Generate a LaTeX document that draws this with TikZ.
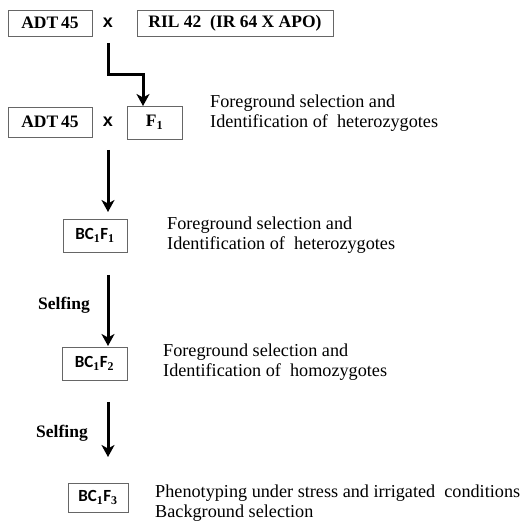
\documentclass[tikz,border=0pt]{standalone}
\usepackage{fontspec}
\setmainfont{Liberation Serif}
\newfontfamily\crossfont{Liberation Sans}
\newfontfamily\genfont{Carlito}
\usepackage{xcolor}
\usepackage{tikz}
\usetikzlibrary{positioning,arrows.meta}

\begin{document}
\begin{tikzpicture}[x=1pt, y=-1pt,
    parentbox/.style={draw=black!60, line width=0.8pt, inner sep=0pt, font=\fontsize{17.5}{18}\selectfont\bfseries},
    genbox/.style={draw=black!60, line width=0.8pt, inner sep=0pt, font=\genfont\fontsize{17}{18}\selectfont\bfseries},
    cross/.style={inner sep=0pt, font=\crossfont\fontsize{18}{18}\selectfont\bfseries},
    note/.style={anchor=west, align=left, inner sep=0pt, font=\fontsize{18.2}{20}\selectfont},
    selfing/.style={inner sep=0pt, font=\fontsize{17.5}{20}\selectfont\bfseries},
    flow/.style={line width=3pt, -{Stealth[length=12pt,width=13pt,inset=3.5pt]}}]
    \useasboundingbox (0,0) rectangle (531,521);

    \coordinate (CrossAOut) at (108, 43);
    \coordinate (CrossABend) at (108, 75);
    \coordinate (FOneIn) at (143, 106);

    \coordinate (CrossBOut) at (108, 150);
    \coordinate (BCOneIn) at (108, 212);
    \coordinate (BCOneOut) at (108, 275);
    \coordinate (BCTwoIn) at (108, 346);
    \coordinate (BCTwoOut) at (108, 402);
    \coordinate (BCThreeIn) at (108, 457);

    \node [parentbox, minimum width=84, minimum height=26] (adtA) at (50, 23) {ADT\,45};
    \node [cross] (crossA) at (108, 23) {x};
    \node [parentbox, minimum width=196, minimum height=26] (ril) at (235, 23) {RIL 42\ \ (IR 64 X APO)};

    \node [parentbox, minimum width=84, minimum height=30] (adtB) at (50, 122) {ADT\,45};
    \node [cross] (crossB) at (108, 122) {x};
    \node [parentbox, minimum width=55, minimum height=33] (fOne) at (154.5, 122.5) {F$_{\mathbf{1}}$};
    \node [note] (noteA) at (210, 113) {Foreground selection and\\Identification of\ \ heterozygotes};

    \node [genbox, minimum width=64, minimum height=33] (bcOne) at (95, 235.5) {BC$_{\mathbf{1}}$F$_{\mathbf{1}}$};
    \node [note] (noteB) at (167, 235) {Foreground selection and\\Identification of\ \ heterozygotes};

    \node [selfing] (selfA) at (64, 305) {Selfing};

    \node [genbox, minimum width=65, minimum height=33] (bcTwo) at (94.5, 363.5) {BC$_{\mathbf{1}}$F$_{\mathbf{2}}$};
    \node [note] (noteC) at (163, 362) {Foreground selection and\\Identification of\ \ homozygotes};

    \node [selfing] (selfB) at (62, 433) {Selfing};

    \node [genbox, minimum width=60, minimum height=29] (bcThree) at (98, 497.5) {BC$_{\mathbf{1}}$F$_{\mathbf{3}}$};
    \node [note] (noteD) at (155, 503) {Phenotyping under stress and irrigated\ \ conditions\\Background selection};

    \draw [flow] (CrossAOut) -- (CrossABend) -| (FOneIn);
    \draw [flow] (CrossBOut) -- (BCOneIn);
    \draw [flow] (BCOneOut) -- (BCTwoIn);
    \draw [flow] (BCTwoOut) -- (BCThreeIn);
  \end{tikzpicture}
\end{document}
